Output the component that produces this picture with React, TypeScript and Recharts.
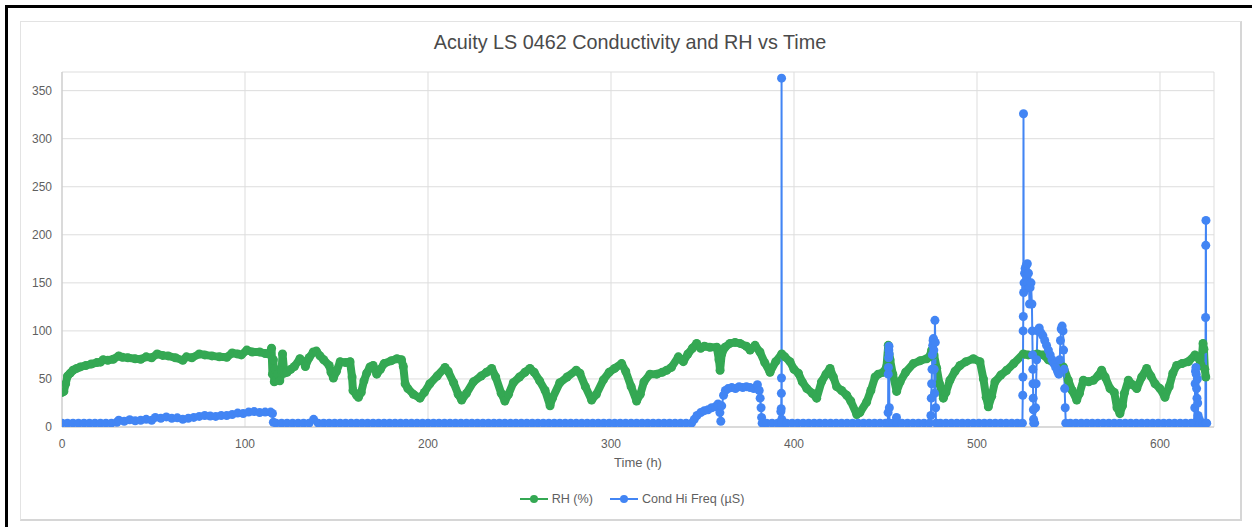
import { LineChart, Line, XAxis, YAxis, CartesianGrid } from 'recharts';

// readings: [hours, RH %]
const rhReadings: [number, number][] = [
  [0, 36], [1, 37], [2, 45], [3, 53], [4.5, 56], [6, 59], [8, 61], [10, 62.5], [13, 64], [16, 65.5],
  [19, 67], [21, 67.5], [22.5, 70], [25, 69.5], [28, 70.5], [31, 74], [33, 72.5], [36, 72], [40, 71],
  [43, 70.5], [46, 73], [49, 72], [52, 76], [55, 74.5], [58, 74], [62, 72], [66, 69.5], [68, 73],
  [71, 72], [75, 76], [78, 75], [82, 74], [86, 73], [90, 72.5], [93, 77], [96, 76], [98, 75], [101, 80],
  [104, 78], [108, 78], [111, 76.5], [113, 76], [114.5, 82], [115, 55], [115.5, 70], [116, 47],
  [116.5, 60], [117, 49], [118, 55], [119, 48], [120, 58], [120.5, 76], [121.5, 56], [123, 57],
  [125, 60], [127, 63], [130, 71], [132, 68], [133, 63], [135, 72], [137.3, 78], [139, 79], [141, 74],
  [143, 70], [146, 64], [147, 57], [148.3, 51], [150, 58], [152, 68], [155, 67], [157.4, 68],
  [158.5, 52], [159, 38], [161, 33], [162, 31], [163.5, 36], [165, 48], [166.5, 56], [168.3, 62.5],
  [170, 64], [172, 55], [174, 60], [176, 66], [180, 69], [183, 71], [185.5, 70], [186.5, 63],
  [187.5, 45], [189, 40], [192, 34], [195.6, 30], [198, 36], [201, 45], [205, 53], [209.3, 62],
  [211, 58], [214, 46], [216.5, 34], [218.4, 28], [221, 35], [224.8, 47], [229, 53], [232, 57],
  [234.8, 61], [237, 52], [240, 35], [242, 27], [244, 34], [246.6, 46], [250, 52], [253, 57],
  [255.7, 61], [258, 57], [261, 48], [264, 38], [266.7, 22], [268, 30], [272, 46], [276, 52],
  [281, 59], [283, 56], [286, 42], [289.4, 28], [292, 34], [295.8, 49], [299, 57], [302, 61],
  [305.8, 66], [308, 58], [311, 42], [314, 27], [316, 34], [318, 47], [321.3, 55], [325, 55],
  [328, 57], [330.4, 59], [333, 62], [336.8, 73], [339.5, 68], [342, 76], [344.5, 82], [346.8, 87],
  [349, 82], [351, 84], [354, 83], [357.8, 83], [359, 70], [359.6, 59], [360.5, 76], [362.3, 83],
  [365, 87], [367.8, 88], [370.5, 87], [374, 84], [376, 80], [378.7, 85], [381.4, 78], [384, 67],
  [386.9, 57], [390, 68], [393.3, 76], [395, 73], [397.8, 68], [400, 60], [402.4, 56], [404.5, 47],
  [407, 40], [410, 35], [412.4, 30], [415, 47], [417.5, 55], [419.7, 61], [421.5, 52], [423.3, 42],
  [426, 38], [428.8, 33], [431, 27], [434.3, 13], [436, 15], [439.7, 26], [442, 38], [444.3, 52],
  [446, 55], [448.8, 57], [450.5, 62], [451.5, 85], [452.5, 70], [454, 55], [456.1, 37], [458, 47],
  [461, 57], [465.2, 66], [469, 69], [472.5, 71], [474, 73], [475.2, 80], [476.5, 75], [478, 61],
  [479.5, 45], [481.6, 30], [483, 36], [485.2, 48.6], [488, 58], [490.7, 64], [494, 68], [498, 71],
  [501.6, 68], [503.5, 50], [505, 31], [506.2, 21], [508, 32], [509.8, 47], [513, 54], [516.2, 59],
  [520, 66], [525.3, 76], [528, 75], [530.8, 75], [533, 76], [536.2, 75], [539, 70], [542.6, 66],
  [545, 64], [547.2, 62.5], [549.9, 48.6], [552, 38], [554.5, 28], [556, 35], [558.1, 48.6],
  [561, 47], [563.6, 48.6], [566, 53], [568.1, 59], [570, 52], [572.7, 40], [575, 36], [576.5, 20],
  [578.1, 14], [579.5, 22], [580.5, 35], [582.7, 48.6], [585, 44], [587.3, 40], [590, 52],
  [592.7, 61], [595, 53], [597.3, 45], [600, 40], [602.7, 31], [605, 42], [607, 56], [609.1, 64],
  [612, 66], [615.5, 68], [619.1, 75], [621, 72], [622.5, 64], [623.5, 87], [624, 81], [624.5, 60],
  [625, 52],
];

// readings: [hours, conductivity µS]
const condReadings: [number, number][] = [
  [0, 4], [3, 4], [6, 4], [9, 4], [12, 4], [15, 4], [18, 4], [21, 4], [24, 4], [27, 4], [30, 5],
  [31, 7], [34, 6], [37, 7.5], [40, 6.5], [43, 7], [46, 8], [49, 7], [51, 10], [54, 9], [57, 10.5],
  [60, 9], [63, 9.5], [66, 8], [69, 9], [72, 10], [75, 11], [78, 12], [81, 11.5], [84, 11], [87, 12],
  [90, 12], [93, 13], [96, 14.5], [99, 14], [102, 15.5], [105, 16], [108, 15], [111, 15.5],
  [114, 15.5], [115, 14], [115.5, 5],
  [117, 4], [120, 4], [123, 4], [126, 4], [129, 4], [132, 4], [135, 4], [137.5, 8], [140, 4],
  [143, 4], [146, 4], [149, 4], [152, 4], [155, 4], [158, 4], [161, 4], [164, 4], [167, 4], [170, 4],
  [173, 4], [176, 4], [179, 4], [182, 4], [185, 4], [188, 4], [191, 4], [194, 4], [197, 4], [200, 4],
  [203, 4], [206, 4], [209, 4], [212, 4], [215, 4], [218, 4], [221, 4], [224, 4], [227, 4], [230, 4],
  [233, 4], [236, 4], [239, 4], [242, 4], [245, 4], [248, 4], [251, 4], [254, 4], [257, 4], [260, 4],
  [263, 4], [266, 4], [269, 4], [272, 4], [275, 4], [278, 4], [281, 4], [284, 4], [287, 4], [290, 4],
  [293, 4], [296, 4], [299, 4], [302, 4], [305, 4], [308, 4], [311, 4], [314, 4], [317, 4], [320, 4],
  [323, 4], [326, 4], [329, 4], [332, 4], [335, 4], [338, 4], [341, 4], [344, 4],
  [345.5, 8], [347, 12], [349, 15], [351, 17], [353, 18], [355, 20], [357, 21], [358.5, 24],
  [359.5, 15], [360, 6], [360.5, 22], [361.5, 33], [362.5, 38], [364, 40], [366, 41], [368, 40],
  [370, 42], [372, 41], [374, 42], [376, 41], [378, 40], [380, 44], [381, 38], [381.5, 30],
  [382, 20], [382.3, 10], [382.6, 4],
  [385, 4], [388, 4], [391, 4], [392.8, 16], [393, 19], [393.1, 35], [393.15, 51], [393.2, 363],
  [393.3, 8], [393.4, 4],
  [396, 4], [399, 4], [402, 4], [405, 4], [408, 4], [411, 4], [414, 4], [417, 4], [420, 4], [423, 4],
  [426, 4], [429, 4], [432, 4], [435, 4], [438, 4], [441, 4], [444, 4], [447, 4], [450, 4],
  [451.2, 4], [451.4, 15], [451.5, 55], [451.6, 62], [451.7, 72], [451.8, 80], [451.9, 84],
  [452, 76], [452.1, 20], [452.2, 4],
  [454, 4], [456, 10], [456.3, 4], [459, 4], [462, 4], [465, 4], [468, 4], [471, 4], [474, 4],
  [474.8, 12], [475, 30], [475.2, 45], [475.4, 60], [475.6, 75], [475.8, 85], [476, 90],
  [476.2, 92], [476.4, 80], [476.6, 60], [476.8, 35], [477, 111], [477.2, 88], [477.4, 20],
  [477.6, 4],
  [480, 4], [483, 4], [486, 4], [489, 4], [492, 4], [495, 4], [498, 4], [501, 4], [504, 4], [507, 4],
  [510, 4], [513, 4], [516, 4], [519, 4], [522, 4], [524.8, 4],
  [525, 33], [525.1, 52], [525.2, 100], [525.3, 115], [525.4, 326], [525.5, 140], [525.7, 150],
  [526, 160], [526.3, 165], [526.6, 145], [526.9, 168], [527.2, 155], [527.5, 170], [527.8, 150],
  [528.1, 160], [528.4, 145], [528.7, 128], [529, 145], [529.5, 150], [530, 128], [530.2, 100],
  [530.4, 75], [530.5, 60], [530.6, 45], [530.7, 30], [530.8, 18], [530.9, 8], [531, 4],
  [531.5, 4], [532, 20], [532.3, 45], [532.6, 70], [533, 100], [534, 103], [535, 98], [536, 95],
  [537, 90], [538, 85], [539, 80], [540, 75], [541, 70], [542, 66], [543, 62], [544, 58],
  [544.7, 55], [545.2, 70], [545.6, 90], [546, 102], [546.5, 105], [547, 100], [547.3, 80],
  [547.6, 60], [547.9, 40], [548.2, 20], [548.5, 4],
  [551, 4], [554, 4], [557, 4], [560, 4], [563, 4], [566, 4], [569, 4], [572, 4], [575, 4], [578, 4],
  [581, 4], [584, 4], [587, 4], [590, 4], [593, 4], [596, 4], [599, 4], [602, 4], [605, 4], [608, 4],
  [611, 4], [614, 4], [617, 4],
  [618.5, 4], [619, 20], [619.2, 45], [619.4, 58], [619.6, 62], [619.8, 55], [620, 40], [620.2, 30],
  [620.4, 50], [620.6, 25], [620.8, 12], [621, 4], [621.5, 8], [622, 4], [623.5, 4],
  [624.8, 4], [624.9, 114], [625, 189], [625.1, 215], [625.2, 4], [625.5, 4],
];

const xTicks = [0, 100, 200, 300, 400, 500, 600];
const yTicks = [0, 50, 100, 150, 200, 250, 300, 350];

const rhData = rhReadings.map(([t, v]) => ({ t, v }));
const condData = condReadings.map(([t, v]) => ({ t, v }));

const GREEN = '#34a853';
const BLUE = '#4285f4';
const FONT = '"Liberation Sans", Arial, sans-serif';

const LegendItem = ({ color, label, gap }: { color: string; label: string; gap: number }) => (
  <div style={{ display: 'flex', alignItems: 'center', marginRight: gap }}>
    <svg width={29} height={10} style={{ marginRight: 3 }}>
      <line x1={0} y1={5} x2={28} y2={5} stroke={color} strokeWidth={2} />
      <circle cx={14} cy={5} r={4} fill={color} />
    </svg>
    <span>{label}</span>
  </div>
);

export default function App() {
  return (
    <div style={{ position: 'absolute', left: 0, top: 0, width: 1252, height: 527, background: '#fff', fontFamily: FONT }}>
      {/* outer black frame */}
      <div style={{ position: 'absolute', left: 5, top: 5, right: 0, bottom: 0, borderTop: '3px solid #000', borderLeft: '3px solid #000' }} />
      {/* chart frame */}
      <div style={{ position: 'absolute', left: 20, top: 21, width: 1219, height: 497, borderTop: '1px solid #e3e3e3', borderLeft: '1px solid #e3e3e3', borderRight: '2px solid #d6d6d6', borderBottom: '2px solid #d6d6d6' }} />

      <div style={{ position: 'absolute', left: 20, width: 1220, top: 31, textAlign: 'center', fontSize: 19.8, color: '#4a4a4a' }}>
        Acuity LS 0462 Conductivity and RH vs Time
      </div>

      <div style={{ position: 'absolute', left: 0, top: 0 }}>
        <LineChart width={1252} height={527} margin={{ top: 72, right: 38, bottom: 70, left: 22 }}>
          <CartesianGrid stroke="#dddddd" strokeWidth={1} />
          <XAxis
            type="number"
            dataKey="t"
            domain={[0, 629.5]}
            ticks={xTicks}
            allowDataOverflow
            height={30}
            tickLine={false}
            tickMargin={6}
            axisLine={{ stroke: '#c6c6c6' }}
            tick={{ fontSize: 12, fill: '#5f5f5f', fontFamily: FONT }}
          />
          <YAxis
            type="number"
            domain={[0, 369.4]}
            ticks={yTicks}
            allowDataOverflow
            width={40}
            tickLine={false}
            tickMargin={4}
            axisLine={{ stroke: '#c6c6c6' }}
            tick={{ fontSize: 12, fill: '#5f5f5f', fontFamily: FONT }}
          />
          <Line
            data={rhData}
            dataKey="v"
            name="RH (%)"
            type="linear"
            stroke={GREEN}
            strokeWidth={8}
            strokeLinejoin="round"
            strokeLinecap="round"
            dot={{ r: 4.5, fill: GREEN, stroke: 'none' }}
            isAnimationActive={false}
          />
          <Line
            data={condData}
            dataKey="v"
            name="Cond Hi Freq (µS)"
            type="linear"
            stroke={BLUE}
            strokeWidth={2}
            dot={{ r: 4.5, fill: BLUE, stroke: 'none' }}
            isAnimationActive={false}
          />
        </LineChart>
      </div>

      <div style={{ position: 'absolute', left: 62, width: 1152, top: 455, textAlign: 'center', fontSize: 13, color: '#5f5f5f' }}>
        Time (h)
      </div>

      <div style={{ position: 'absolute', left: 20, width: 1224, top: 492, display: 'flex', justifyContent: 'center', fontSize: 12.6, color: '#5f5f5f' }}>
        <LegendItem color={GREEN} label="RH (%)" gap={17} />
        <LegendItem color={BLUE} label="Cond Hi Freq (µS)" gap={0} />
      </div>
    </div>
  );
}
